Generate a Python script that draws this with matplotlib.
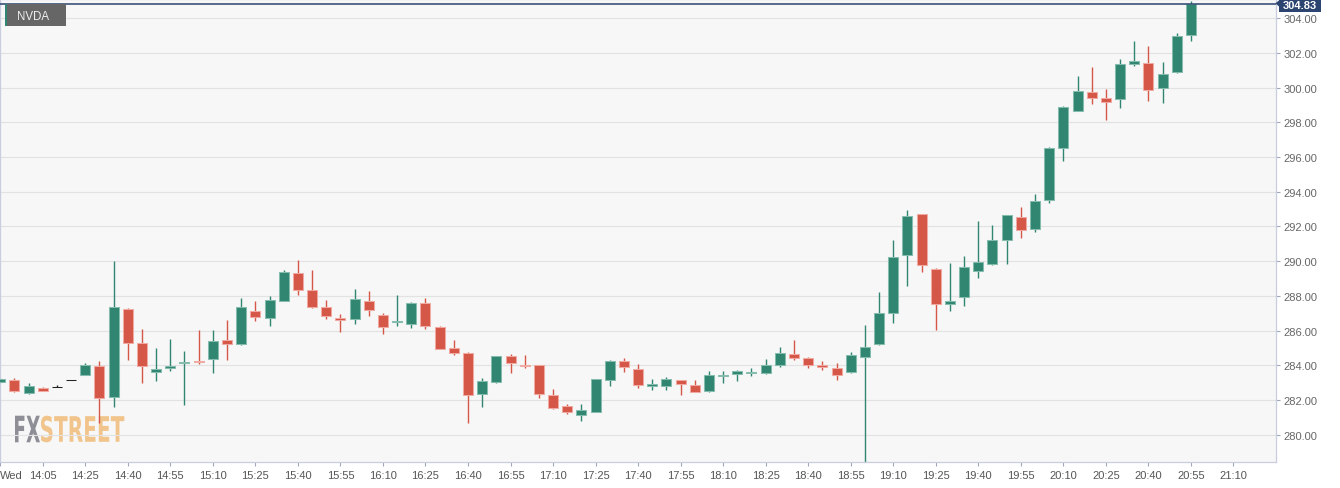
import matplotlib
matplotlib.use('Agg')
import matplotlib.pyplot as plt
from matplotlib.patches import Rectangle, PathPatch, Polygon
from matplotlib.textpath import TextPath
from matplotlib.font_manager import FontProperties
import matplotlib.transforms as mtransforms

plt.rcParams['font.family'] = ['Liberation Sans', 'DejaVu Sans']

# ---------------- data (5-minute candles, 13:55 .. 20:55) ----------------
opens = [283.05, 283.18, 282.40, 282.69, 282.78, 283.17, 283.45, 283.99, 282.19, 287.25,
         285.28, 283.61, 283.87, 284.14, 284.26, 284.36, 285.47, 285.22, 287.12, 286.73,
         287.71, 289.34, 288.36, 287.38, 286.73, 286.66, 287.70, 286.89, 286.50, 286.41,
         287.60, 286.20, 284.99, 284.70, 282.38, 283.03, 284.53, 284.03, 284.01, 282.30,
         281.65, 281.15, 281.31, 283.15, 284.24, 283.82, 282.84, 282.80, 283.15, 282.90,
         282.52, 283.38, 283.49, 283.55, 283.59, 284.01, 284.68, 284.45, 284.01, 283.86,
         283.61, 284.47, 285.24, 287.00, 290.34, 292.72, 289.54, 287.52, 287.93, 289.44,
         289.82, 291.21, 292.55, 291.87, 293.51, 296.50, 298.66, 299.74, 299.41, 299.34,
         301.34, 301.39, 299.99, 300.87, 303.04]
highs = [283.30, 283.27, 282.98, 282.77, 282.86, 283.19, 284.13, 284.28, 290.03, 287.30,
         286.08, 284.99, 285.51, 284.82, 286.03, 286.03, 286.64, 287.87, 287.70, 288.00,
         289.50, 290.07, 289.50, 287.77, 286.95, 288.40, 288.27, 287.00, 288.06, 287.67,
         287.88, 286.26, 285.47, 284.76, 283.28, 284.57, 284.66, 284.60, 284.03, 282.65,
         281.77, 281.77, 283.24, 284.30, 284.41, 284.07, 283.22, 283.34, 283.17, 283.17,
         283.67, 283.68, 283.76, 283.84, 284.36, 285.05, 285.45, 284.47, 284.24, 284.13,
         284.79, 286.35, 288.21, 291.21, 292.93, 292.74, 289.60, 289.90, 290.28, 292.30,
         292.07, 292.68, 293.11, 293.87, 296.58, 298.92, 300.64, 301.16, 299.91, 301.62,
         302.66, 302.37, 301.45, 303.14, 304.98]
lows = [283.00, 282.50, 282.38, 282.53, 282.76, 283.15, 283.43, 280.69, 281.59, 284.32,
        282.98, 283.09, 283.67, 281.71, 284.10, 283.55, 284.32, 285.20, 286.54, 286.29,
        287.70, 288.07, 287.29, 286.66, 285.91, 286.37, 286.87, 285.80, 286.26, 286.14,
        286.08, 284.93, 284.62, 280.67, 281.63, 283.00, 283.55, 283.87, 282.11, 281.50,
        281.21, 280.82, 281.30, 282.80, 283.64, 282.72, 282.61, 282.57, 282.32, 282.46,
        282.50, 282.98, 283.11, 283.38, 283.49, 283.93, 284.30, 283.84, 283.72, 283.18,
        283.58, 278.30, 285.20, 286.43, 288.56, 289.36, 286.03, 287.12, 287.41, 289.05,
        289.80, 289.82, 291.32, 291.67, 293.34, 295.75, 298.63, 299.03, 298.11, 298.82,
        301.25, 299.21, 299.09, 300.85, 302.69]
closes = [283.25, 282.53, 282.82, 282.55, 282.78, 283.17, 284.01, 282.11, 287.38, 285.28,
          283.95, 283.78, 283.99, 284.20, 284.20, 285.39, 285.24, 287.35, 286.81, 287.79,
          289.40, 288.33, 287.37, 286.87, 286.64, 287.81, 287.18, 286.23, 286.58, 287.58,
          286.29, 284.95, 284.70, 282.30, 283.09, 284.55, 284.14, 283.95, 282.34, 281.57,
          281.31, 281.42, 283.22, 284.28, 283.90, 282.88, 282.92, 283.22, 282.92, 282.48,
          283.44, 283.45, 283.68, 283.63, 284.03, 284.72, 284.45, 284.03, 283.90, 283.47,
          284.59, 285.05, 287.00, 290.26, 292.59, 289.80, 287.52, 287.70, 289.65, 289.96,
          291.21, 292.66, 291.78, 293.47, 296.50, 298.90, 299.78, 299.41, 299.17, 301.35,
          301.53, 299.86, 300.79, 302.96, 304.83]

tick_pos = [0, 3, 6, 9, 12, 15, 18, 21, 24, 27, 30, 33, 36, 39, 42, 45, 48, 51, 54, 57,
            60, 63, 66, 69, 72, 75, 78, 81, 84, 87]
tick_labels = ['Wed', '14:05', '14:25', '14:40', '14:55', '15:10', '15:25', '15:40', '15:55',
               '16:10', '16:25', '16:40', '16:55', '17:10', '17:25', '17:40', '17:55', '18:10',
               '18:25', '18:40', '18:55', '19:10', '19:25', '19:40', '19:55', '20:10', '20:25',
               '20:40', '20:55', '21:10']
y_ticks = [280, 282, 284, 286, 288, 290, 292, 294, 296, 298, 300, 302, 304]
symbol = 'NVDA'
last_price = 304.83

# ---------------- styling ----------------
W, H = 1340, 489
GREEN = '#318672'
GREEN_EDGE = '#86bcae'
RED = '#d55748'
RED_EDGE = '#f0aaa2'
DOJI = '#222222'
NAVY = '#2b4470'
SPINE = '#c8cee0'

fig = plt.figure(figsize=(W / 100, H / 100), dpi=100)
fig.patch.set_facecolor('white')
ax = fig.add_axes([0 / W, 26 / H, 1276 / W, 463 / H])
ax.set_facecolor('#f7f7f7')

px_per_candle = 14.175
ax.set_xlim(-0.015, 1276 / px_per_candle - 0.015)
ax.set_ylim(278.445, 305.094)

xs = list(range(len(opens)))
face, edge, wick = [], [], []
for o, c in zip(opens, closes):
    if abs(c - o) < 1e-9:
        face.append(DOJI); edge.append(DOJI); wick.append(DOJI)
    elif c > o:
        face.append(GREEN); edge.append(GREEN_EDGE); wick.append(GREEN)
    else:
        face.append(RED); edge.append(RED_EDGE); wick.append(RED)

ax.vlines(xs, lows, highs, colors=wick, lw=1.0, zorder=2)
heights = [max(abs(c - o), 0.01) for o, c in zip(opens, closes)]
bottoms = [min(o, c) for o, c in zip(opens, closes)]
ax.bar(xs, heights, bottom=bottoms, width=0.705, color=face, edgecolor=edge,
       linewidth=0.75, zorder=3)

# grid and axes
ax.set_yticks(y_ticks)
ax.set_yticklabels([f'{v:.2f}' for v in y_ticks])
ax.yaxis.tick_right()
ax.yaxis.grid(True, color='#e2e2e2', lw=0.8, zorder=0.5)
ax.set_axisbelow(True)
ax.set_xticks(tick_pos)
ax.set_xticklabels(tick_labels)
ax.get_xticklabels()[0].set_horizontalalignment('left')
ax.tick_params(axis='y', length=3, width=0.8, color='#a0a6bb', labelcolor='#666666',
               labelsize=8, pad=2.5)
ax.tick_params(axis='x', length=3, width=0.8, color='#a0a6bb', labelcolor='#555555',
               labelsize=8, pad=3)
for s in ['left', 'right', 'bottom', 'top']:
    ax.spines[s].set_color(SPINE)
    ax.spines[s].set_linewidth(0.9)

# last price line + label
ax.axhline(last_price, color=NAVY, lw=1.1, zorder=4)
def fx(px):
    return px / W
def fy(py):
    return 1 - py / H
fig.add_artist(Rectangle((fx(1279), fy(12.5)), fx(42), 12.5 / H, facecolor=NAVY,
                         edgecolor='none', transform=fig.transFigure))
fig.add_artist(Polygon([(fx(1275.5), fy(4.3)), (fx(1279.5), fy(1)), (fx(1279.5), fy(8))],
                       closed=True, facecolor=NAVY, edgecolor='none', transform=fig.transFigure))
fig.text(fx(1300), fy(6.3), f'{last_price:.2f}', color='white', fontsize=8,
         fontweight='bold', ha='center', va='center')

# symbol label
fig.add_artist(Rectangle((fx(5), fy(27)), fx(61), 22 / H, facecolor='#666666',
                         edgecolor='none', transform=fig.transFigure, zorder=5))
fig.add_artist(Rectangle((fx(5), fy(27)), fx(2.2), 22 / H, facecolor=GREEN,
                         edgecolor='none', transform=fig.transFigure, zorder=6))
fig.text(fx(17), fy(16.5), symbol, color='#eeeeee', fontsize=8.3, ha='left', va='center',
         zorder=7)

# FXSTREET watermark (behind grid and candles)
def logo_text(s, color, x0, x1, y0, y1):
    fp = FontProperties(family='DejaVu Sans', weight='bold')
    tp = TextPath((0, 0), s, size=100, prop=fp)
    bb = tp.get_extents()
    sx = (x1 - x0) / bb.width
    sy = (y1 - y0) / bb.height
    tr = (mtransforms.Affine2D().translate(-bb.x0, -bb.y0).scale(sx / W, sy / H)
          .translate(x0 / W, (H - y1) / H) + fig.transFigure)
    ax.add_artist(PathPatch(tp, facecolor=color, edgecolor='none', transform=tr,
                            zorder=0.3, clip_on=False))

logo_text('FX', '#8e8e96', 15, 40, 416.7, 443.3)
logo_text('STREET', '#f1c48c', 41, 124.3, 416.7, 443.3)

fig.savefig('out.png', dpi=100, facecolor='white')
